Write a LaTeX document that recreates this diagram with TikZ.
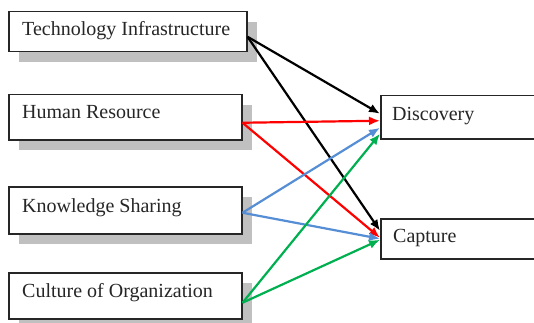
\documentclass[tikz,border=0pt]{standalone}
\usepackage{fontspec}
\setmainfont{Liberation Serif}
\usetikzlibrary{arrows.meta,shadows}
\definecolor{shadowgray}{RGB}{192,192,192}
\definecolor{arrred}{RGB}{255,0,0}
\definecolor{arrblue}{RGB}{85,142,213}
\definecolor{arrgreen}{RGB}{0,176,80}
\tikzset{
  box/.style={draw=black!85, line width=1.5pt, fill=white, anchor=north west, inner sep=0pt},
  shbox/.style={box, drop shadow={shadow xshift=10.5pt, shadow yshift=-10pt, fill=shadowgray, opacity=1}},
  lbl/.style={anchor=base west, inner sep=0pt, font=\fontsize{20}{24}\selectfont, text=black!85},
  arr/.style={line width=2.2pt, -{Latex[length=11pt,width=9pt]}},
}
\begin{document}
\begin{tikzpicture}[x=1pt,y=-1pt]
\useasboundingbox (0,0) rectangle (534,323);
% left boxes
\node[shbox, minimum width=238pt, minimum height=40pt] (ti) at (8,11) {};
\node[shbox, minimum width=233pt, minimum height=45pt] (hr) at (8,94) {};
\node[shbox, minimum width=233pt, minimum height=47pt] (ks) at (8,186) {};
\node[shbox, minimum width=233pt, minimum height=46pt] (co) at (8,272) {};
% right boxes
\node[box, minimum width=220pt, minimum height=43pt] (disc) at (380,95) {};
\node[box, minimum width=220pt, minimum height=40pt] (capt) at (380,218) {};
% labels
\node[lbl] (tit) at (22,36) {Technology Infrastructure};
\node[lbl] (hrt) at (22,119) {Human Resource};
\node[lbl] (kst) at (22,212) {Knowledge Sharing};
\node[lbl] (cot) at (22,297) {Culture of Organization};
\node[lbl] (disct) at (392,121) {Discovery};
\node[lbl] (captt) at (393,242) {Capture};
% arrows
\draw[arr, black] ([yshift=-5pt]ti.east) -- ([yshift=3.5pt]disc.west);
\draw[arr, black] ([yshift=-5pt]ti.east) -- ([yshift=8pt]capt.west);
\draw[arr, arrred] ([yshift=-5.5pt]hr.east) -- ([yshift=-3.5pt]disc.west);
\draw[arr, arrred] ([yshift=-5.5pt]hr.east) -- ([yshift=1pt]capt.west);
\draw[arr, arrblue] ([yshift=-2.5pt]ks.east) -- ([yshift=-10.5pt]disc.west);
\draw[arr, arrblue] ([yshift=-2.5pt]ks.east) -- ([yshift=0pt]capt.west);
\draw[arr, arrgreen] ([yshift=-7pt]co.east) -- ([yshift=-16.5pt]disc.west);
\draw[arr, arrgreen] ([yshift=-7pt]co.east) -- ([yshift=-1pt]capt.west);
\end{tikzpicture}
\end{document}
